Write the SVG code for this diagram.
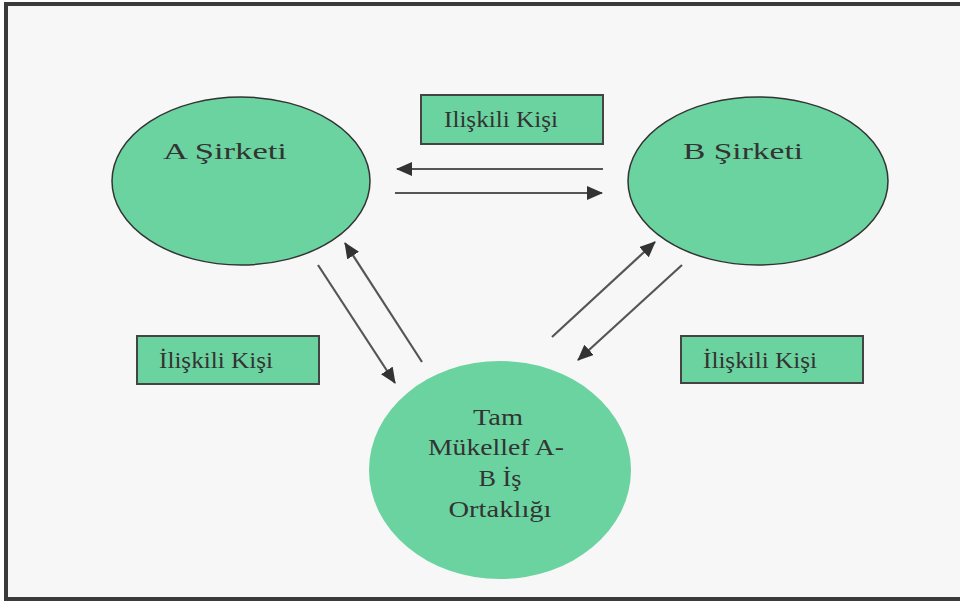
<svg xmlns="http://www.w3.org/2000/svg" width="960" height="605" viewBox="0 0 960 605">
<defs>
<marker id="ah" markerWidth="16" markerHeight="14" refX="15" refY="7" orient="auto" markerUnits="userSpaceOnUse">
<path d="M0,0 L16,7 L0,14 Z" fill="#333"/>
</marker>
<style>
.ell{fill:#6BD3A0;stroke:#333;stroke-width:1.5}
.box{fill:#6BD3A0;stroke:#444;stroke-width:2}
.t{font-family:"Liberation Serif","DejaVu Serif",serif;font-size:24px;fill:#333}
.c{stroke:#555;stroke-width:2.2;fill:none;marker-end:url(#ah)}
</style>
</defs>
<rect x="0" y="0" width="960" height="605" fill="#fff"/>
<rect x="6" y="4" width="975" height="595" fill="#f7f7f7" stroke="#3a3a3a" stroke-width="4"/>
<g id="connectors">
<line class="c" x1="603" y1="169" x2="397" y2="169"/>
<line class="c" x1="395" y1="193" x2="602" y2="193"/>
<line class="c" x1="318" y1="265" x2="395" y2="383"/>
<line class="c" x1="422" y1="362" x2="345" y2="243"/>
<line class="c" x1="552" y1="337" x2="655" y2="242"/>
<line class="c" x1="682" y1="265" x2="578" y2="360"/>
</g>
<g id="nodeA">
<ellipse class="ell" cx="241" cy="181" rx="129" ry="84"/>
<text class="t" x="163" y="159" textLength="124" lengthAdjust="spacingAndGlyphs">A Şirketi</text>
</g>
<g id="nodeB">
<ellipse class="ell" cx="758" cy="181" rx="130" ry="84"/>
<text class="t" x="683" y="159" textLength="120" lengthAdjust="spacingAndGlyphs">B Şirketi</text>
</g>
<g id="nodeC">
<ellipse cx="500" cy="470" rx="131" ry="109" fill="#6BD3A0"/>
<text class="t" text-anchor="middle" x="498" y="425" textLength="50" lengthAdjust="spacingAndGlyphs">Tam</text>
<text class="t" text-anchor="middle" x="496" y="455" textLength="136" lengthAdjust="spacingAndGlyphs">Mükellef A-</text>
<text class="t" text-anchor="middle" x="500" y="486" textLength="43" lengthAdjust="spacingAndGlyphs">B İş</text>
<text class="t" text-anchor="middle" x="500" y="517" textLength="103" lengthAdjust="spacingAndGlyphs">Ortaklığı</text>
</g>
<g id="labelTop">
<rect class="box" x="421" y="95" width="182" height="49"/>
<text class="t" x="444" y="127" textLength="114" lengthAdjust="spacingAndGlyphs">Ilişkili Kişi</text>
</g>
<g id="labelLeft">
<rect class="box" x="137" y="336" width="182" height="48"/>
<text class="t" x="159" y="368" textLength="114" lengthAdjust="spacingAndGlyphs">İlişkili Kişi</text>
</g>
<g id="labelRight">
<rect class="box" x="681" y="336" width="182" height="47"/>
<text class="t" x="703" y="368" textLength="114" lengthAdjust="spacingAndGlyphs">İlişkili Kişi</text>
</g>
</svg>
